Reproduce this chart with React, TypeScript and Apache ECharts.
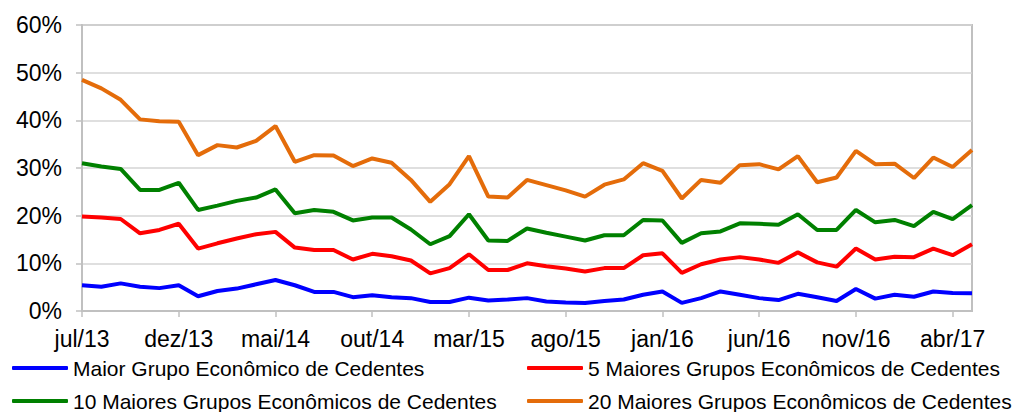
import React, { useEffect, useRef } from "react";
import * as echarts from "echarts";

const categories = [
  "jul/13", "ago/13", "set/13", "out/13", "nov/13", "dez/13",
  "jan/14", "fev/14", "mar/14", "abr/14", "mai/14", "jun/14", "jul/14", "ago/14", "set/14", "out/14", "nov/14", "dez/14",
  "jan/15", "fev/15", "mar/15", "abr/15", "mai/15", "jun/15", "jul/15", "ago/15", "set/15", "out/15", "nov/15", "dez/15",
  "jan/16", "fev/16", "mar/16", "abr/16", "mai/16", "jun/16", "jul/16", "ago/16", "set/16", "out/16", "nov/16", "dez/16",
  "jan/17", "fev/17", "mar/17", "abr/17", "mai/17",
];

const maior1 = [
  5.4, 5.1, 5.8, 5.1, 4.8, 5.4, 3.1, 4.2, 4.7, 5.6, 6.5, 5.4, 4.0, 4.0, 2.9, 3.3, 2.9, 2.7,
  1.9, 1.9, 2.8, 2.2, 2.4, 2.7, 2.0, 1.8, 1.7, 2.1, 2.4, 3.4, 4.1, 1.7, 2.7, 4.1, 3.4, 2.7, 2.3,
  3.6, 2.9, 2.1, 4.6, 2.6, 3.4, 3.0, 4.1, 3.8, 3.7,
];
const maiores5 = [
  19.8, 19.6, 19.3, 16.3, 17.0, 18.3, 13.1, 14.2, 15.2, 16.1, 16.6, 13.3, 12.8, 12.8, 10.8, 12.0, 11.5, 10.6,
  7.9, 9.0, 11.9, 8.6, 8.6, 10.0, 9.4, 8.9, 8.3, 9.0, 9.0, 11.7, 12.1, 8.0, 9.8, 10.8, 11.3, 10.8, 10.1,
  12.3, 10.2, 9.3, 13.1, 10.8, 11.4, 11.3, 13.1, 11.7, 14.0,
];
const maiores10 = [
  31.0, 30.3, 29.8, 25.4, 25.4, 26.9, 21.2, 22.1, 23.1, 23.8, 25.5, 20.5, 21.2, 20.8, 19.0, 19.6, 19.6, 17.1,
  14.0, 15.7, 20.3, 14.8, 14.7, 17.3, 16.4, 15.6, 14.8, 15.9, 15.9, 19.1, 19.0, 14.3, 16.3, 16.7, 18.4, 18.3, 18.1,
  20.3, 17.0, 17.0, 21.2, 18.6, 19.1, 17.8, 20.8, 19.3, 22.2,
];
const maiores20 = [
  48.5, 46.7, 44.3, 40.2, 39.8, 39.7, 32.7, 34.8, 34.3, 35.7, 38.8, 31.3, 32.7, 32.6, 30.4, 32.0, 31.1, 27.5,
  22.9, 26.6, 32.5, 24.0, 23.8, 27.5, 26.4, 25.3, 24.0, 26.5, 27.6, 31.0, 29.4, 23.6, 27.5, 26.9, 30.6, 30.8, 29.7,
  32.5, 27.0, 28.0, 33.6, 30.8, 30.9, 27.9, 32.2, 30.2, 33.8,
];

const seriesNames = [
  "Maior Grupo Econômico de Cedentes",
  "5 Maiores Grupos Econômicos de Cedentes",
  "10 Maiores Grupos Econômicos de Cedentes",
  "20 Maiores Grupos Econômicos de Cedentes",
];
const seriesColors = ["#0000ff", "#ff0000", "#008000", "#e46c0a"];
const yTicks = { min: 0, max: 60, interval: 10 };

const FONT = "'Liberation Sans', Arial, sans-serif";

export default function App() {
  const ref = useRef<HTMLDivElement>(null);
  useEffect(() => {
    if (!ref.current) return;
    const chart = echarts.init(ref.current, undefined, { renderer: "svg" });
    const values = [maior1, maiores5, maiores10, maiores20];
    // legend slots: [left, top] for each series, 2 columns x 2 rows
    const legendSlots = [
      [12, 356],
      [527, 356],
      [12, 389],
      [527, 389],
    ];
    chart.setOption({
      animation: false,
      grid: {
        left: 82,
        right: 46,
        top: 25,
        bottom: 101,
        containLabel: false,
        outerBoundsMode: "none",
        show: true,
        borderColor: "#c0c0c0",
        borderWidth: 2,
        backgroundColor: "transparent",
      },
      legend: seriesNames.map((name, i) => ({
        left: legendSlots[i][0],
        top: legendSlots[i][1],
        padding: 0,
        icon: "roundRect",
        itemWidth: 56,
        itemHeight: 4,
        data: [name],
        textStyle: { fontFamily: FONT, fontSize: 21, color: "#000", lineHeight: 24 },
      })),
      xAxis: {
        type: "category",
        data: categories,
        boundaryGap: false,
        axisLine: { lineStyle: { color: "#c0c0c0", width: 2 } },
        axisTick: { show: true, interval: 4, length: 6, lineStyle: { color: "#c0c0c0", width: 1.5 } },
        axisLabel: { interval: 4, margin: 16, fontFamily: FONT, fontSize: 23, color: "#000" },
        splitLine: { show: false },
      },
      yAxis: {
        type: "value",
        min: yTicks.min,
        max: yTicks.max,
        interval: yTicks.interval,
        axisLine: { show: true, lineStyle: { color: "#c0c0c0", width: 2 } },
        axisTick: { show: true, length: 6, lineStyle: { color: "#c0c0c0", width: 1.5 } },
        axisLabel: { formatter: "{value}%", margin: 20, fontFamily: FONT, fontSize: 23, color: "#000" },
        splitLine: { show: true, lineStyle: { color: "#d4d4d4", width: 1.5 } },
      },
      series: seriesNames.map((name, i) => ({
        name,
        type: "line",
        data: values[i],
        showSymbol: false,
        symbol: "none",
        lineStyle: { color: seriesColors[i], width: 4 },
        itemStyle: { color: seriesColors[i] },
      })),
    });
    return () => chart.dispose();
  }, []);
  return (
    <div
      ref={ref}
      style={{ position: "fixed", left: 0, top: 0, width: 1018, height: 412, background: "#fff" }}
    />
  );
}
